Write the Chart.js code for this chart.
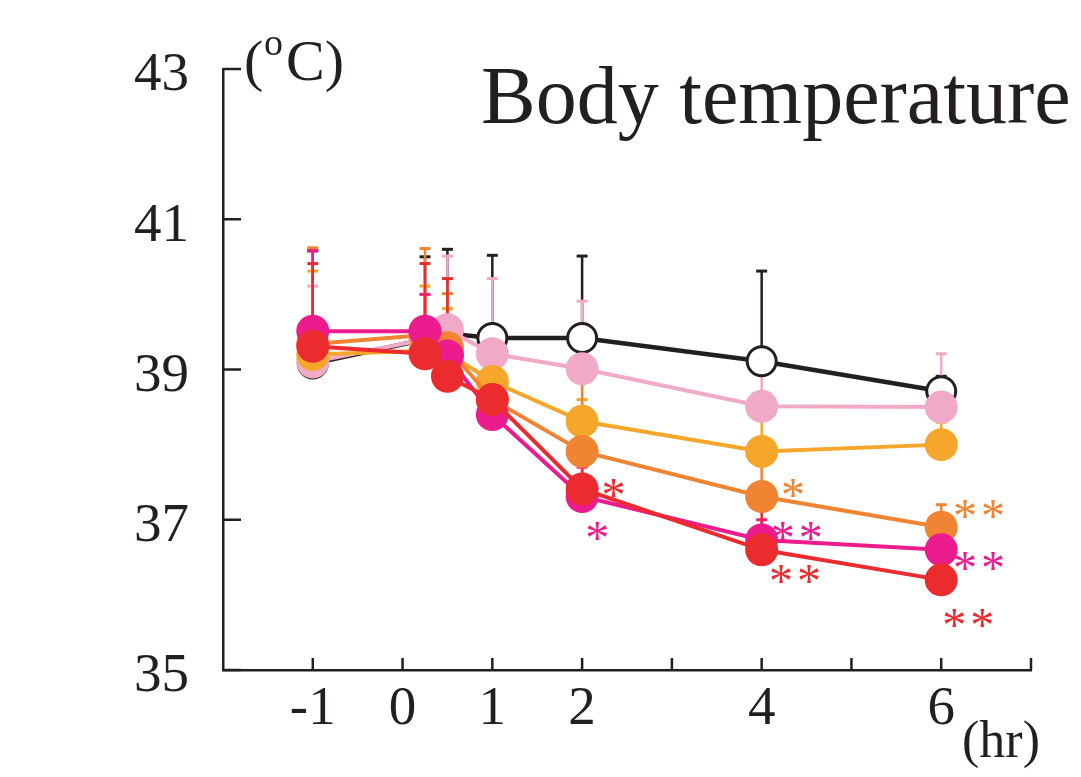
<!DOCTYPE html>
<html lang="en">
<head>
<meta charset="UTF-8">
<title>Body temperature</title>
<script src="https://cdn.jsdelivr.net/npm/chart.js@4"></script>
<style>
  html, body { margin: 0; padding: 0; background: #fff; }
</style>
</head>
<body>
<canvas id="chart" width="1081" height="777"></canvas>
<script>
// Sampling times (hr) and axis labels
const times = [-1, 0.25, 0.5, 1, 2, 4, 6];
const xTickLabels = [-1, 0, 1, 2, 4, 6];
const yTickLabels = [35, 37, 39, 41, 43];

// Group means (°C)
const controlMean = [39.08, 39.40, 39.48, 39.42, 39.42, 39.11, 38.71];
const pinkMean    = [39.10, 39.40, 39.53, 39.21, 39.01, 38.51, 38.50];
const yellowMean  = [39.20, 39.25, 39.22, 38.84, 38.31, 37.91, 38.00];
const orangeMean  = [39.34, 39.46, 39.29, 38.60, 37.91, 37.31, 36.90];
const magentaMean = [39.51, 39.51, 39.18, 38.40, 37.31, 36.73, 36.60];
const redMean     = [39.31, 39.21, 38.91, 38.60, 37.41, 36.60, 36.20];

// Upper error bars (SD)
const controlSd = [1.50, 1.10, 1.12, 1.10, 1.09, 1.20, 0.20];
const pinkSd    = [1.01, 0.60, 0.98, 1.00, 0.90, 0.49, 0.71];
const yellowSd  = [1.11, 0.86, 0.59, 0.26, 0.29, 0.49, 0.30];
const orangeSd  = [1.28, 1.15, 0.72, 0.40, 0.99, 0.49, 0.30];
const magentaSd = [1.07, 0.49, 0.42, 0.40, 0.39, 0.27, 0.30];
const redSd     = [1.10, 1.20, 1.30, 0.40, 0.49, 0.65, 0.30];

// Significance marks (data coordinates)
const starText  = ['*', '*', '*', '**', '**', '**', '**', '**'];
const starX     = [2.35, 2.17, 4.35, 4.39, 4.37, 6.42, 6.42, 6.30];
const starY     = [37.44, 36.87, 37.44, 36.87, 36.29, 37.16, 36.47, 35.71];
const starGroup = ['red', 'magenta', 'orange', 'magenta', 'red', 'orange', 'magenta', 'red'];

const colors = {
  black: '#231f20',
  pink: '#f1a9c8',
  yellow: '#f5a62b',
  orange: '#f08433',
  magenta: '#ec1c8e',
  red: '#ec2b2e',
};
const FONT = "'Liberation Serif', 'Times New Roman', serif";

function pts(values) {
  return times.map((t, i) => ({ x: t, y: values[i] }));
}

function series(key, mean, sd, filled) {
  const c = colors[key];
  return {
    label: key,
    data: pts(mean),
    sd: sd,
    borderColor: c,
    borderWidth: key === 'black' ? 4.5 : 4,
    pointRadius: filled ? 16.5 : 14.5,
    pointHoverRadius: filled ? 16.5 : 14.5,
    pointBackgroundColor: filled ? c : '#ffffff',
    pointBorderColor: c,
    pointBorderWidth: filled ? 0 : 3,
    tension: 0,
    fill: false,
  };
}

// first dataset is drawn on top, so red goes first
const datasets = [
  series('red', redMean, redSd, true),
  series('magenta', magentaMean, magentaSd, true),
  series('orange', orangeMean, orangeSd, true),
  series('yellow', yellowMean, yellowSd, true),
  series('pink', pinkMean, pinkSd, true),
  series('black', controlMean, controlSd, false),
];

const extras = {
  id: 'extras',
  beforeDatasetsDraw(chart) {
    const { ctx, scales: { x, y } } = chart;
    ctx.save();
    // error bars, bottom series first
    for (let d = chart.data.datasets.length - 1; d >= 0; d--) {
      const ds = chart.data.datasets[d];
      ctx.strokeStyle = ds.borderColor;
      ds.data.forEach((p, i) => {
        const px = x.getPixelForValue(p.x);
        const py = y.getPixelForValue(p.y);
        const top = y.getPixelForValue(p.y + ds.sd[i]);
        ctx.lineWidth = 2.5;
        ctx.beginPath();
        ctx.moveTo(px, py);
        ctx.lineTo(px, top);
        ctx.stroke();
        ctx.lineWidth = 3;
        ctx.beginPath();
        ctx.moveTo(px - 5.5, top);
        ctx.lineTo(px + 5.5, top);
        ctx.stroke();
      });
    }
    // inward tick marks
    ctx.strokeStyle = colors.black;
    ctx.lineWidth = 2.5;
    for (let v = -1; v <= 7; v++) {
      const px = x.getPixelForValue(v);
      ctx.beginPath();
      ctx.moveTo(px, y.bottom);
      ctx.lineTo(px, y.bottom - 12);
      ctx.stroke();
    }
    yTickLabels.forEach((v) => {
      const py = y.getPixelForValue(v);
      ctx.beginPath();
      ctx.moveTo(x.left, py);
      ctx.lineTo(x.left + 18, py);
      ctx.stroke();
    });
    ctx.restore();
  },
  afterDatasetsDraw(chart) {
    const { ctx, chartArea, scales: { x, y } } = chart;
    ctx.save();
    // asterisks
    ctx.textAlign = 'center';
    ctx.textBaseline = 'alphabetic';
    ctx.font = `48px ${FONT}`;
    starText.forEach((s, i) => {
      ctx.fillStyle = colors[starGroup[i]];
      const cx = x.getPixelForValue(starX[i]);
      const cy = y.getPixelForValue(starY[i]);
      const n = s.length;
      for (let k = 0; k < n; k++) {
        ctx.fillText('*', cx + (k - (n - 1) / 2) * 28, cy + 24);
      }
    });

    ctx.fillStyle = colors.black;
    ctx.textAlign = 'left';
    // title
    ctx.font = `82px ${FONT}`;
    ctx.fillText('Body temperature', chartArea.left + 258, 123);
    // y unit
    ctx.font = `58px ${FONT}`;
    ctx.fillText('(', chartArea.left + 21, 80);
    ctx.fillText('C)', chartArea.left + 63, 80);
    ctx.font = `38px ${FONT}`;
    ctx.fillText('o', chartArea.left + 41, 55);
    // x unit
    ctx.font = `52px ${FONT}`;
    ctx.fillText('(hr)', chartArea.left + 739, 757);
    ctx.restore();
  },
};

new Chart(document.getElementById('chart'), {
  type: 'line',
  data: { datasets },
  plugins: [extras],
  options: {
    responsive: false,
    animation: false,
    devicePixelRatio: 1,
    layout: { padding: { left: 100, top: 69, right: 50, bottom: 27 } },
    plugins: {
      legend: { display: false },
      tooltip: { enabled: false },
      title: { display: false },
    },
    scales: {
      x: {
        type: 'linear',
        min: -2,
        max: 7,
        grid: { display: false, drawTicks: false },
        border: { display: true, color: colors.black, width: 2.5 },
        ticks: {
          stepSize: 1,
          autoSkip: false,
          maxRotation: 0,
          padding: 7,
          color: colors.black,
          font: { family: FONT, size: 55 },
          callback: (v) => (xTickLabels.includes(v) ? String(v) : ''),
        },
      },
      y: {
        min: 35,
        max: 43,
        grid: { display: false, drawTicks: false },
        border: { display: true, color: colors.black, width: 2.5 },
        ticks: {
          stepSize: 2,
          padding: 34,
          labelOffset: 7,
          color: colors.black,
          font: { family: FONT, size: 55 },
          callback: (v) => (yTickLabels.includes(v) ? String(v) : ''),
        },
      },
    },
  },
});
</script>
</body>
</html>
